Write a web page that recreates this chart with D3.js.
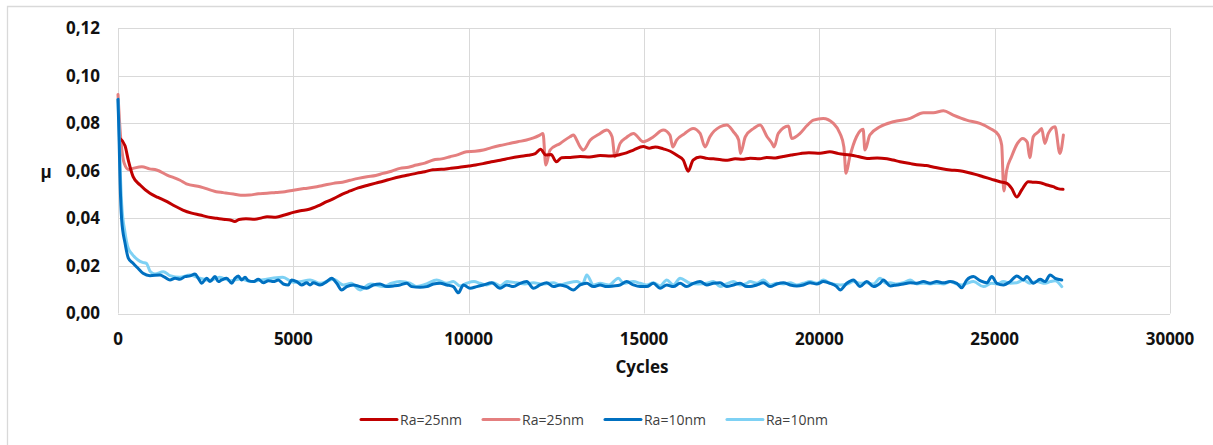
<!DOCTYPE html>
<html>
<head>
<meta charset="utf-8">
<script src="https://cdn.jsdelivr.net/npm/d3@7/dist/d3.min.js"></script>
<style>
  html, body { margin: 0; padding: 0; background: #fff; }
  svg { display: block; }
</style>
</head>
<body>
<svg id="chart" width="1213" height="445"></svg>
<script>
// Friction coefficient (μ) vs. cycles, two roughness levels, two runs each.
const seriesNames = ["Ra=25nm", "Ra=25nm", "Ra=10nm", "Ra=10nm"];
const seriesColors = ["#C00000", "#E47F7F", "#0070C0", "#7ED1F4"];

const xTicks = [0, 5000, 10000, 15000, 20000, 25000, 30000];
const yTicks = [0, 0.02, 0.04, 0.06, 0.08, 0.10, 0.12];
const xTitle = "Cycles";
const yTitle = "μ";

// [cycles, μ]
const ra25a = [
  [50,0.0737],[200,0.0705],[300,0.064],[430,0.0575],[630,0.054],[910,0.0505],[1140,0.0488],[1400,0.047],
  [1620,0.0452],[1850,0.0435],[2100,0.0422],[2340,0.0414],[2580,0.0405],[2820,0.0400],[3000,0.0396],
  [3200,0.0393],[3330,0.0387],[3450,0.0395],[3650,0.0398],[3900,0.0396],[4100,0.0402],[4250,0.0407],
  [4500,0.0405],[4750,0.0414],[5000,0.0425],[5200,0.0432],[5450,0.0438],[5700,0.0452],[5950,0.047],
  [6150,0.0483],[6400,0.0502],[6620,0.0515],[6850,0.0528],[7100,0.0538],[7350,0.0548],[7560,0.0556],
  [7800,0.0566],[8040,0.0575],[8280,0.0582],[8530,0.059],[8750,0.0596],[8980,0.0604],[9220,0.0606],
  [9470,0.061],[9700,0.0614],[10000,0.062],[10200,0.0624],[10410,0.063],[10650,0.0638],[10900,0.0644],
  [11150,0.0652],[11450,0.066],[11700,0.0665],[11900,0.0672],[12050,0.069],[12200,0.0666],[12350,0.0668],
  [12500,0.0638],[12650,0.0655],[12900,0.0656],[13180,0.066],[13450,0.0658],[13750,0.0664],[14050,0.0662],
  [14320,0.0668],[14500,0.0675],[14700,0.0687],[14980,0.0702],[15150,0.0695],[15320,0.07],[15550,0.0692],
  [15750,0.0682],[15950,0.0664],[16120,0.0645],[16260,0.0598],[16400,0.0645],[16600,0.0658],[16800,0.0652],
  [16980,0.065],[17200,0.0646],[17380,0.0644],[17600,0.065],[17800,0.0648],[18030,0.0653],[18300,0.065],
  [18500,0.0656],[18750,0.0654],[18970,0.066],[19200,0.0666],[19450,0.0672],[19700,0.0676],[20020,0.0674],
  [20300,0.068],[20550,0.0672],[20880,0.0666],[21100,0.066],[21360,0.0652],[21650,0.0654],[21930,0.065],
  [22100,0.0645],[22300,0.0638],[22600,0.063],[22870,0.0624],[23050,0.0622],[23240,0.0616],[23500,0.0608],
  [23730,0.0603],[24000,0.06],[24210,0.0594],[24450,0.0585],[24670,0.0575],[24900,0.0565],[25150,0.0554],
  [25350,0.0547],[25480,0.0527],[25630,0.049],[25770,0.0519],[25960,0.0554],[26100,0.0552],[26300,0.055],
  [26500,0.054],[26670,0.0533],[26800,0.0525],[26950,0.0522]
];

const ra25b = [
  [0,0.092],[70,0.075],[180,0.063],[300,0.0605],[430,0.061],[680,0.0617],[900,0.0608],[1100,0.0603],
  [1400,0.0582],[1770,0.056],[1950,0.0545],[2340,0.0533],[2800,0.0512],[3000,0.0508],[3290,0.0502],
  [3500,0.0497],[3750,0.0498],[4000,0.0503],[4250,0.0505],[4500,0.0509],[4760,0.0512],[5000,0.0518],
  [5300,0.0525],[5670,0.0533],[5900,0.054],[6140,0.0547],[6400,0.0552],[6620,0.056],[6850,0.0568],
  [7100,0.0575],[7350,0.058],[7560,0.0589],[7800,0.0598],[8040,0.061],[8280,0.0615],[8510,0.0624],
  [8750,0.0632],[8990,0.0645],[9230,0.065],[9470,0.0659],[9700,0.0668],[9940,0.068],[10180,0.0682],
  [10420,0.0687],[10650,0.0697],[10890,0.0706],[11150,0.0714],[11400,0.0722],[11650,0.0729],[11850,0.0738],
  [12030,0.075],[12120,0.0757],[12200,0.0624],[12320,0.0687],[12610,0.0715],[12890,0.0743],[12990,0.075],
  [13080,0.0729],[13180,0.07],[13270,0.0687],[13470,0.0729],[13700,0.0752],[13940,0.0771],[14090,0.0743],
  [14170,0.0659],[14320,0.0715],[14500,0.074],[14700,0.0757],[14980,0.0722],[15100,0.0728],[15270,0.0743],
  [15550,0.0771],[15740,0.075],[15820,0.07],[15930,0.0729],[16150,0.0755],[16400,0.0778],[16600,0.0757],
  [16740,0.07],[16880,0.0743],[17170,0.0785],[17360,0.0792],[17550,0.0764],[17700,0.0729],[17750,0.0673],
  [17890,0.0743],[18130,0.0778],[18310,0.0792],[18510,0.0743],[18650,0.0715],[18710,0.07],[18830,0.0757],
  [19120,0.0788],[19210,0.0736],[19450,0.0757],[19650,0.079],[19830,0.0813],[20110,0.082],[20400,0.0799],
  [20590,0.0757],[20700,0.07],[20760,0.0589],[20870,0.0659],[21060,0.0743],[21250,0.0774],[21300,0.0687],
  [21440,0.075],[21730,0.0785],[22110,0.0806],[22590,0.082],[22970,0.0844],[23250,0.0844],[23540,0.0852],
  [23820,0.0834],[24200,0.0813],[24580,0.0799],[24870,0.0778],[25100,0.0752],[25200,0.0708],[25260,0.0515],
  [25340,0.06],[25480,0.0659],[25650,0.0715],[25800,0.0736],[25930,0.072],[26000,0.0655],[26100,0.0743],
  [26250,0.0764],[26340,0.0778],[26430,0.0715],[26530,0.0757],[26720,0.0785],[26860,0.0673],[26960,0.075]
];

const ra10a = [
  [0,0.090],[30,0.074],[60,0.055],[105,0.0393],[200,0.0296],[294,0.0233],[430,0.0211],[570,0.019],
  [713,0.0169],[913,0.0159],[1198,0.0162],[1340,0.0152],[1483,0.0141],[1626,0.0148],[1768,0.0144],
  [1911,0.0155],[2053,0.0158],[2196,0.0166],[2291,0.0148],[2386,0.0127],[2529,0.0148],[2624,0.0134],
  [2766,0.0155],[2861,0.0134],[2956,0.0141],[3099,0.0148],[3242,0.0127],[3337,0.0148],[3432,0.0158],
  [3527,0.0141],[3622,0.0152],[3717,0.0138],[3860,0.0134],[4002,0.0144],[4145,0.0129],[4287,0.0138],
  [4430,0.0134],[4573,0.0141],[4715,0.0124],[4858,0.012],[4953,0.0141],[5096,0.0134],[5239,0.012],
  [5381,0.0129],[5476,0.012],[5571,0.0129],[5761,0.012],[5952,0.0134],[6094,0.0148],[6237,0.0127],
  [6379,0.0099],[6522,0.0113],[6712,0.012],[6902,0.0113],[7092,0.0106],[7283,0.012],[7473,0.0124],
  [7663,0.0113],[7853,0.0116],[8043,0.012],[8233,0.0127],[8376,0.0113],[8614,0.011],[8804,0.0113],
  [8994,0.0124],[9184,0.0127],[9374,0.012],[9564,0.0113],[9707,0.0087],[9849,0.012],[10040,0.0106],
  [10230,0.0113],[10420,0.012],[10658,0.0129],[10895,0.0106],[11085,0.012],[11276,0.0113],[11466,0.0127],
  [11656,0.0134],[11846,0.0106],[12036,0.012],[12226,0.0129],[12416,0.0113],[12607,0.012],[12797,0.0113],
  [12987,0.0099],[13177,0.012],[13367,0.0127],[13557,0.0113],[13747,0.012],[13937,0.0113],[14128,0.0116],
  [14318,0.012],[14508,0.0134],[14698,0.012],[14888,0.0113],[15078,0.0113],[15268,0.0127],[15459,0.0106],
  [15649,0.012],[15839,0.0113],[16029,0.0127],[16219,0.0113],[16409,0.0127],[16599,0.0134],[16790,0.012],
  [16980,0.0127],[17170,0.0129],[17360,0.0113],[17550,0.012],[17740,0.0127],[17930,0.0113],[18025,0.0113],
  [18215,0.012],[18405,0.0129],[18595,0.0113],[18786,0.0124],[18976,0.0129],[19166,0.012],[19356,0.0116],
  [19546,0.012],[19736,0.0129],[19926,0.0124],[20117,0.0134],[20307,0.0127],[20497,0.0113],[20592,0.0099],
  [20782,0.0127],[20972,0.0141],[21162,0.0113],[21352,0.0134],[21543,0.0113],[21733,0.0127],[21828,0.0141],
  [22018,0.0116],[22208,0.012],[22398,0.0124],[22588,0.0129],[22779,0.0127],[22969,0.0134],[23159,0.0127],
  [23349,0.0134],[23539,0.0129],[23729,0.0134],[23919,0.0127],[24062,0.0108],[24205,0.0141],[24395,0.0155],
  [24585,0.0138],[24775,0.0129],[24918,0.0155],[25060,0.0127],[25250,0.012],[25441,0.0134],[25631,0.0158],
  [25821,0.0141],[25916,0.0155],[26106,0.0127],[26296,0.0144],[26439,0.0134],[26581,0.0162],[26724,0.0148],
  [26914,0.0141]
];

const ra10b = [
  [0,0.090],[30,0.078],[60,0.062],[105,0.046],[200,0.034],[290,0.0275],[385,0.0253],[570,0.0225],
  [700,0.0215],[810,0.0211],[913,0.0178],[1054,0.0166],[1293,0.0176],[1483,0.0159],[1768,0.0152],
  [2053,0.0162],[2340,0.0148],[2620,0.014],[2900,0.0152],[3200,0.0138],[3500,0.0145],[3800,0.0134],
  [4100,0.0141],[4400,0.0148],[4700,0.0152],[5000,0.0131],[5191,0.0134],[5476,0.0141],[5761,0.0127],
  [6142,0.0144],[6427,0.012],[6650,0.0127],[6902,0.0099],[7200,0.0124],[7568,0.0113],[7800,0.0127],
  [8043,0.0134],[8328,0.0127],[8518,0.0113],[8800,0.0124],[9089,0.0141],[9374,0.0127],[9564,0.0134],
  [9750,0.0116],[9944,0.0127],[10150,0.0134],[10325,0.0127],[10500,0.012],[10705,0.0129],[10900,0.0116],
  [11085,0.0134],[11371,0.0129],[11600,0.0124],[11846,0.0129],[12100,0.0124],[12416,0.0129],[12600,0.012],
  [12797,0.0127],[13082,0.0134],[13250,0.0124],[13367,0.0162],[13557,0.012],[13747,0.0127],[14000,0.012],
  [14270,0.0148],[14413,0.0127],[14698,0.0134],[14888,0.0127],[15078,0.012],[15268,0.0129],[15459,0.0116],
  [15649,0.0141],[15839,0.012],[16029,0.0148],[16314,0.0127],[16550,0.0124],[16790,0.0127],[16980,0.0134],
  [17170,0.0113],[17350,0.0124],[17550,0.0134],[17740,0.012],[17930,0.0127],[18025,0.0134],[18215,0.0127],
  [18405,0.0141],[18600,0.012],[18786,0.0127],[18976,0.0124],[19166,0.0129],[19356,0.012],[19546,0.0127],
  [19736,0.0134],[19926,0.0127],[20117,0.0141],[20307,0.0127],[20592,0.012],[20800,0.0124],[20972,0.0134],
  [21162,0.0127],[21352,0.0129],[21543,0.0124],[21733,0.0148],[21900,0.0127],[22018,0.0129],[22208,0.0124],
  [22398,0.0129],[22588,0.0141],[22779,0.0124],[22969,0.0127],[23159,0.0124],[23349,0.0127],[23539,0.0124],
  [23729,0.0134],[23919,0.0124],[24062,0.012],[24205,0.0127],[24395,0.0134],[24680,0.0113],[24918,0.0127],
  [25060,0.0124],[25250,0.0134],[25441,0.0127],[25631,0.0129],[25821,0.0141],[26000,0.0127],[26200,0.0134],
  [26439,0.0127],[26581,0.0134],[26724,0.0138],[26914,0.0113]
];

const seriesData = [ra25a, ra25b, ra10a, ra10b];

// ---- layout ----
const W = 1213, H = 445;
const plot = { left: 118, right: 1170, top: 28, bottom: 313.5 };
const svg = d3.select("#chart");
const gridColor = "#D9D9D9";
const baseFont = "'Open Sans', 'DejaVu Sans', sans-serif";

svg.append("rect").attr("width", W).attr("height", H).attr("fill", "#fff");

// chart frame
svg.append("path")
  .attr("d", `M7.5,${H} V6.5 H${W}`)
  .attr("fill", "none").attr("stroke", gridColor).attr("stroke-width", 1.3);

const x = d3.scaleLinear().domain([0, 30000]).range([plot.left, plot.right]);
const y = d3.scaleLinear().domain([0, 0.12]).range([plot.bottom, plot.top]);

const fmtY = v => d3.format(".2f")(v).replace(".", ",");
const snap = v => Math.round(v) + 0.5;

// gridlines
const grid = svg.append("g").attr("stroke", gridColor).attr("stroke-width", 1);
grid.selectAll("line.h").data(yTicks).join("line")
  .attr("x1", plot.left).attr("x2", x(30000))
  .attr("y1", d => snap(y(d))).attr("y2", d => snap(y(d)));
grid.selectAll("line.v").data(xTicks).join("line")
  .attr("y1", y(0.12)).attr("y2", y(0))
  .attr("x1", d => snap(x(d))).attr("x2", d => snap(x(d)));

// y tick labels
svg.append("g").selectAll("text").data(yTicks).join("text")
  .attr("x", 100).attr("y", d => y(d))
  .attr("dy", "0.35em")
  .attr("text-anchor", "end")
  .attr("font-family", baseFont).attr("font-weight", 700).attr("font-size", 17)
  .attr("fill", "#111")
  .text(fmtY);

// x tick labels
svg.append("g").selectAll("text").data(xTicks).join("text")
  .attr("x", d => x(d)).attr("y", 345)
  .attr("text-anchor", "middle")
  .attr("font-family", baseFont).attr("font-weight", 700).attr("font-size", 17)
  .attr("fill", "#111")
  .text(d => String(d));

// axis titles
svg.append("text")
  .attr("x", (plot.left + plot.right) / 2 - 2).attr("y", 373)
  .attr("text-anchor", "middle")
  .attr("font-family", baseFont).attr("font-weight", 700).attr("font-size", 17)
  .attr("fill", "#111")
  .text(xTitle);

svg.append("text")
  .attr("x", 46).attr("y", 178)
  .attr("text-anchor", "middle")
  .attr("font-family", baseFont).attr("font-weight", 700).attr("font-size", 17)
  .attr("fill", "#111")
  .text(yTitle);

// series lines (lighter runs underneath)
const line = d3.line()
  .x(d => x(d[0])).y(d => y(d[1]))
  .curve(d3.curveMonotoneX);
const drawOrder = [1, 0, 3, 2];
svg.append("g").selectAll("path").data(drawOrder).join("path")
  .attr("d", i => line(seriesData[i]))
  .attr("fill", "none")
  .attr("stroke", i => seriesColors[i])
  .attr("stroke-width", 3)
  .attr("stroke-linejoin", "round")
  .attr("stroke-linecap", "round");

// legend
const legend = svg.append("g");
let lx = 361;
const ly = 419.5;
seriesNames.forEach((name, i) => {
  legend.append("line")
    .attr("x1", lx).attr("x2", lx + 36)
    .attr("y1", ly).attr("y2", ly)
    .attr("stroke", seriesColors[i]).attr("stroke-width", 3)
    .attr("stroke-linecap", "round");
  const t = legend.append("text")
    .attr("x", lx + 39).attr("y", ly + 5.5)
    .attr("font-family", baseFont).attr("font-size", 14)
    .attr("fill", "#404040")
    .text(name);
  lx += 39 + t.node().getComputedTextLength() + 21;
});
</script>
</body>
</html>
